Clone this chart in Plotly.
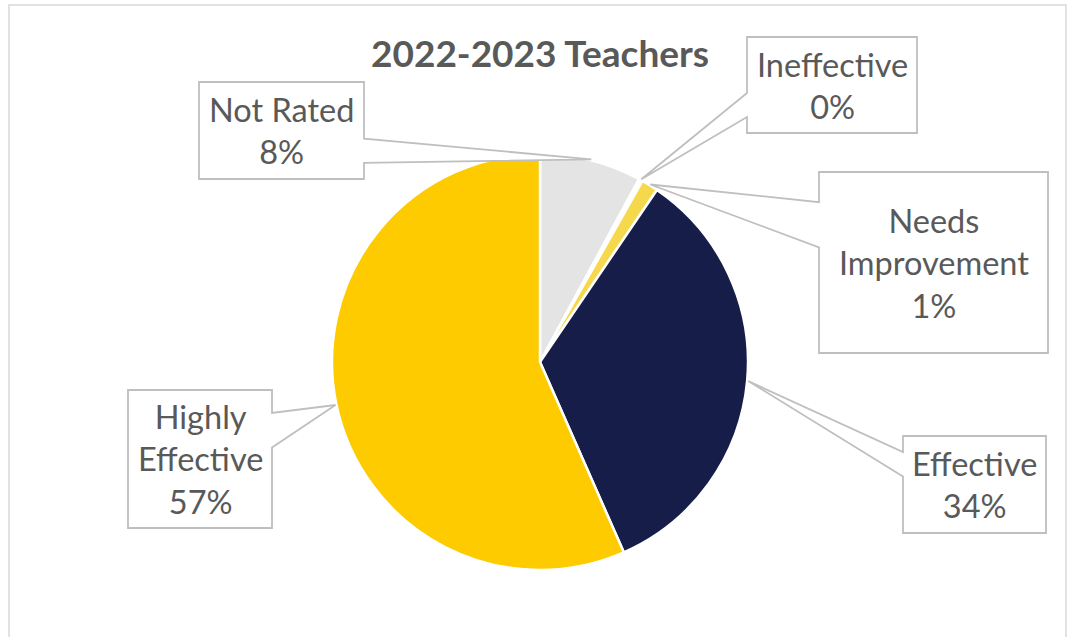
import math
import plotly.graph_objects as go

# ---- data ----
categories = ["Not Rated", "Ineffective", "Needs Improvement", "Effective", "Highly Effective"]
label_lines = ["Not Rated", "Ineffective", "Needs<br>Improvement", "Effective", "Highly<br>Effective"]
values = [7.9, 0.3, 1.3, 33.9, 56.6]
colors = ["#E4E4E4", "#FFFFFF", "#F6D84C", "#161D48", "#FDCB00"]
title_text = "2022-2023 Teachers"

# ---- layout (pixels) ----
W, H = 1074, 637
CX, CY, R = 540, 362, 208
# callout boxes: x0, y0, x1, y1 (pixels)
boxes = [
    (199, 82, 364, 179),
    (747, 37, 917, 133),
    (819, 172, 1048, 353),
    (903, 436, 1046, 533),
    (128, 390, 272, 528),
]
LINE = "#BFBFBF"
TXT = "#595959"
FONT = "Lato"

fig = go.Figure()
fig.add_trace(go.Pie(
    labels=categories, values=values, sort=False, direction="clockwise", rotation=0,
    marker=dict(colors=colors, line=dict(color="white", width=2.5)),
    textinfo="none", hoverinfo="label+percent", showlegend=False,
    domain=dict(x=[(CX - R) / W, (CX + R) / W], y=[1 - (CY + R) / H, 1 - (CY - R) / H]),
))
# invisible pixel axes for overlays
fig.add_trace(go.Scatter(x=[0, W], y=[0, H], mode="markers", marker=dict(opacity=0),
                         hoverinfo="skip", showlegend=False))

total = sum(values)
shapes = []
annotations = []
cum = 0.0
for i, v in enumerate(values):
    mid = (cum + v / 2) / total * 2 * math.pi
    cum += v
    tx = CX + (R + 1) * math.sin(mid)
    ty = CY - (R + 1) * math.cos(mid)
    x0, y0, x1, y1 = boxes[i]
    h = y1 - y0
    if ty < (y0 + y1) / 2:
        b1, b2 = y0 + h / 6, y0 + h * 5 / 12
    else:
        b1, b2 = y0 + h * 7 / 12, y0 + h * 5 / 6
    if tx < x0:
        path = (f"M{x0},{y0} L{x1},{y0} L{x1},{y1} L{x0},{y1} "
                f"L{x0},{b2} L{tx:.1f},{ty:.1f} L{x0},{b1} Z")
    else:
        path = (f"M{x0},{y0} L{x1},{y0} L{x1},{b1} L{tx:.1f},{ty:.1f} "
                f"L{x1},{b2} L{x1},{y1} L{x0},{y1} Z")
    shapes.append(dict(type="path", path=path, xref="x", yref="y", layer="above",
                       fillcolor="white", line=dict(color=LINE, width=1.8)))
    pct = round(v / total * 100)
    annotations.append(dict(x=(x0 + x1) / 2, y=(y0 + y1) / 2, xref="x", yref="y",
                            text=f"{label_lines[i]}<br>{pct}%", showarrow=False,
                            xanchor="center", yanchor="middle", align="center",
                            font=dict(family=FONT, size=32.5, color=TXT)))

# chart frame
shapes.append(dict(type="rect", xref="x", yref="y", x0=9, x1=1066, y0=5, y1=660,
                   line=dict(color="#D9D9D9", width=1.5), layer="above"))
annotations.append(dict(x=540, y=52, xref="x", yref="y", text=f"<b>{title_text}</b>",
                        showarrow=False, xanchor="center", yanchor="middle",
                        font=dict(family=FONT, size=37, color=TXT)))

fig.update_layout(
    width=W, height=H, margin=dict(l=0, r=0, t=0, b=0),
    paper_bgcolor="white", plot_bgcolor="rgba(0,0,0,0)",
    xaxis=dict(range=[0, W], visible=False, fixedrange=True),
    yaxis=dict(range=[H, 0], visible=False, fixedrange=True),
    shapes=shapes, annotations=annotations,
)
fig.write_html("out.html", config={"displayModeBar": False},
               post_script="document.body.style.margin='0';document.body.style.overflow='hidden';")
